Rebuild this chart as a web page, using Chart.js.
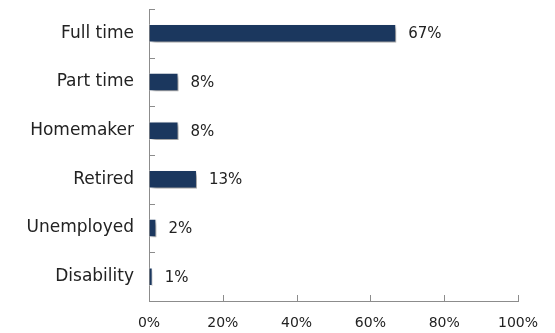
<!DOCTYPE html>
<html>
<head>
<meta charset="utf-8">
<script src="https://cdn.jsdelivr.net/npm/chart.js@4"></script>
<style>
  html, body { margin: 0; padding: 0; background: #fff; }
  #wrap { width: 555px; height: 333px; }
</style>
</head>
<body>
<div id="wrap"><canvas id="chart" width="555" height="333"></canvas></div>
<script>
var categories = ['Full time', 'Part time', 'Homemaker', 'Retired', 'Unemployed', 'Disability'];
var shares = [67, 8, 8, 13, 2, 1];
var tickValues = [0, 20, 40, 60, 80, 100];

var fontFamily = '"DejaVu Sans", sans-serif';
var axisColor = '#8c8c8c';

// soft drop shadow under the bars
var barShadow = {
    id: 'barShadow',
    beforeDatasetsDraw: function(chart) {
        var ctx = chart.ctx;
        ctx.save();
        ctx.shadowColor = 'rgba(0, 0, 0, 0.4)';
        ctx.shadowBlur = 4;
        ctx.shadowOffsetX = 3;
        ctx.shadowOffsetY = 3;
    },
    afterDatasetsDraw: function(chart) {
        chart.ctx.restore();
    }
};

// percent labels after each bar + short inward tick marks on both axes
var valueLabels = {
    id: 'valueLabels',
    afterDraw: function(chart) {
        var ctx = chart.ctx;
        var meta = chart.getDatasetMeta(0);
        var xScale = chart.scales.x;
        var area = chart.chartArea;

        ctx.save();
        ctx.fillStyle = '#222';
        ctx.font = '15px ' + fontFamily;
        ctx.textAlign = 'left';
        ctx.textBaseline = 'middle';
        meta.data.forEach(function(bar, i) {
            ctx.fillText(shares[i] + '%', bar.x + 12, bar.y + 1);
        });

        ctx.strokeStyle = axisColor;
        ctx.lineWidth = 1;
        tickValues.forEach(function(v) {
            if (v === 0) return;
            var x = Math.round(xScale.getPixelForValue(v)) + 0.5;
            ctx.beginPath();
            ctx.moveTo(x, area.bottom);
            ctx.lineTo(x, area.bottom - 6);
            ctx.stroke();
        });

        var band = (area.bottom - area.top) / categories.length;
        for (var i = 0; i < categories.length; i++) {
            var y = Math.round(area.top + band * i) + 0.5;
            ctx.beginPath();
            ctx.moveTo(area.left, y);
            ctx.lineTo(area.left + 6, y);
            ctx.stroke();
        }
        ctx.restore();
    }
};

new Chart(document.getElementById('chart'), {
    type: 'bar',
    data: {
        labels: categories,
        datasets: [{
            data: shares,
            backgroundColor: '#1b375e',
            borderColor: '#ffffff',
            borderWidth: 1,
            barPercentage: 0.38,
            categoryPercentage: 1
        }]
    },
    plugins: [barShadow, valueLabels],
    options: {
        indexAxis: 'y',
        responsive: false,
        animation: false,
        layout: { autoPadding: false, padding: { top: 9, right: 37, left: 0, bottom: 0 } },
        scales: {
            x: {
                min: 0,
                max: 100,
                afterFit: function(scale) {
                    scale.height = 32;
                    scale.paddingLeft = 0;
                    scale.paddingRight = 0;
                },
                afterBuildTicks: function(scale) {
                    scale.ticks = tickValues.map(function(v) { return { value: v }; });
                },
                border: { color: axisColor },
                grid: { drawOnChartArea: false, drawTicks: false },
                ticks: {
                    padding: 14,
                    color: '#222',
                    font: { family: fontFamily, size: 14 },
                    callback: function(v) { return v + '%'; }
                }
            },
            y: {
                afterFit: function(scale) {
                    scale.width = 149;
                    scale.paddingTop = 0;
                    scale.paddingBottom = 0;
                },
                border: { color: axisColor },
                grid: { drawOnChartArea: false, drawTicks: false },
                ticks: {
                    padding: 15,
                    color: '#222',
                    font: { family: fontFamily, size: 17 }
                }
            }
        },
        plugins: {
            legend: { display: false },
            tooltip: { enabled: false }
        }
    }
});
</script>
</body>
</html>
